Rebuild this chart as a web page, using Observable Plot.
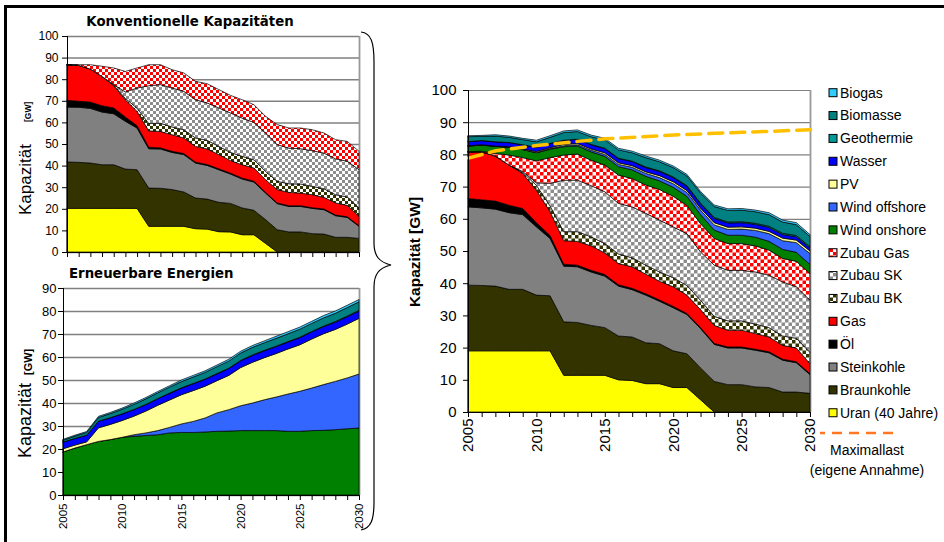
<!DOCTYPE html>
<html><head><meta charset="utf-8">
<script src="https://cdn.jsdelivr.net/npm/d3@7"></script>
<script src="https://cdn.jsdelivr.net/npm/@observablehq/plot@0.6"></script>
<style>
body{margin:0;background:#fff;}
#page{position:relative;width:944px;height:542px;overflow:hidden;font-family:"Liberation Sans",Arial,sans-serif;background:#fff;}
.abs{position:absolute;}
</style></head><body>
<div id="page">
<svg width="0" height="0" style="position:absolute"><defs>
 <pattern id="rZG" width="7" height="7" patternUnits="userSpaceOnUse"><rect width="7" height="7" fill="#fff"/><rect width="3.5" height="3.5" fill="#ff0000"/><rect x="3.5" y="3.5" width="3.5" height="3.5" fill="#ff0000"/></pattern>
 <pattern id="rZSK" width="7" height="7" patternUnits="userSpaceOnUse"><rect width="7" height="7" fill="#fff"/><rect width="3.5" height="3.5" fill="#8c8c8c"/><rect x="3.5" y="3.5" width="3.5" height="3.5" fill="#8c8c8c"/></pattern>
 <pattern id="rZBK" width="7" height="7" patternUnits="userSpaceOnUse"><rect width="7" height="7" fill="#fff"/><rect width="3.5" height="3.5" fill="#333300"/><rect x="3.5" y="3.5" width="3.5" height="3.5" fill="#333300"/></pattern>
 <pattern id="kZG" width="6" height="6" patternUnits="userSpaceOnUse"><rect width="6" height="6" fill="#fff"/><rect width="3" height="3" fill="#ff0000"/><rect x="3" y="3" width="3" height="3" fill="#ff0000"/></pattern>
 <pattern id="kZSK" width="6" height="6" patternUnits="userSpaceOnUse"><rect width="6" height="6" fill="#fff"/><rect width="3" height="3" fill="#8c8c8c"/><rect x="3" y="3" width="3" height="3" fill="#8c8c8c"/></pattern>
 <pattern id="kZBK" width="6" height="6" patternUnits="userSpaceOnUse"><rect width="6" height="6" fill="#fff"/><rect width="3" height="3" fill="#333300"/><rect x="3" y="3" width="3" height="3" fill="#333300"/></pattern>
</defs></svg>
<div class="abs" style="left:4px;top:5px;width:944px;height:540px;border-top:3px solid #000;border-left:3px solid #000;"></div>
<div id="pk" class="abs" style="left:0;top:0"></div>
<div id="pe" class="abs" style="left:0;top:262px"></div>
<div id="pr" class="abs" style="left:400px;top:60px"></div>
<svg id="ov" class="abs" width="944" height="542" style="left:0;top:0;pointer-events:none;font-family:'Liberation Sans',Arial,sans-serif">
 <text x="190" y="26" text-anchor="middle" font-family="DejaVu Sans" font-weight="bold" font-size="13.3">Konventionelle Kapazitäten</text>
 <text x="69" y="278" font-family="DejaVu Sans" font-weight="bold" font-size="13.3">Erneuerbare Energien</text>
 <text transform="translate(30.5,215) rotate(-90)" font-size="17">Kapazität</text>
 <text transform="translate(31,122) rotate(-90)" font-size="8.5" font-weight="bold">[GW]</text>
 <text transform="translate(31,458) rotate(-90)" font-size="18">Kapazität</text>
 <text transform="translate(32,375) rotate(-90)" font-size="11" font-weight="bold">[GW]</text>
 <text transform="translate(420,252) rotate(-90)" text-anchor="middle" font-size="15.5" font-weight="bold">Kapazität [GW]</text>
 <path d="M361,32 C371,33 374,42 374,62 L374,243 C374,256 379,262 391,265 C379,268 374,274 374,287 L374,502 C374,520 371,528 361,530" fill="none" stroke="#000" stroke-width="1.2"/>
 <g id="legend"></g>
 <line x1="820" x2="893" y1="433" y2="433" stroke="#FF7722" stroke-width="2.5" stroke-dasharray="10,7" stroke-dashoffset="5"/>
 <text x="867" y="455" text-anchor="middle" font-size="14">Maximallast</text>
 <text x="867" y="475" text-anchor="middle" font-size="14">(eigene Annahme)</text>
</svg>
</div>
<script>
const years = [2005,2006,2007,2008,2009,2010,2011,2012,2013,2014,2015,2016,2017,2018,2019,2020,2021,2022,2023,2024,2025,2026,2027,2028,2029,2030];
const labelYears = [2005,2010,2015,2020,2025,2030];
const ticks100 = [0,10,20,30,40,50,60,70,80,90,100];
const ticks90 = [0,10,20,30,40,50,60,70,80,90];

// Konventionelle Kapazitäten (GW)
const kSeries = ["Uran (40 Jahre)","Braunkohle","Steinkohle","Öl","Gas","Zubau BK","Zubau SK","Zubau Gas"];
const kUran = [20.2,20.2,20.2,20.2,20.2,20.2,20.2,11.9,11.9,11.9,11.9,10.8,10.6,9.4,9.3,8.0,8.0,4.0,0,0,0,0,0,0,0,0];
const kBraunkohle = [21.5,21.3,21.0,20.2,20.2,18.2,17.9,17.7,17.6,17.0,15.9,14.2,13.9,13.6,13.2,12.4,11.3,11.0,10.3,9.3,9.3,8.5,8.3,6.8,6.8,6.3];
const kSteinkohle = [25.4,25.5,25.3,24.4,23.6,22.1,19.3,18.2,18.2,17.2,17.3,16.2,15.6,15.1,13.6,13.4,13.1,12.3,12.1,11.8,11.8,11.7,11.3,10.0,9.2,5.6];
const kOel = [3.1,2.8,2.9,2.9,2.7,2.0,1.1,0.7,0.5,0.5,0.5,0.4,0.4,0.4,0.4,0.4,0.4,0.3,0.3,0.3,0.3,0.3,0.3,0.3,0.3,0.3];
const kGas = [16.5,16.6,15.3,13.6,10.3,8.0,6.6,7.6,7.6,7.7,7.2,7.3,7.2,6.6,5.8,6.2,6.1,5.9,6.2,6.2,5.9,6.0,5.4,5.6,5.3,4.3];
const kZubauBK = [0,0,0,0,0.2,0.6,1.5,3.4,3.8,3.6,3.8,3.9,4.0,3.8,3.8,3.9,3.8,3.8,3.8,4.0,4.2,3.9,4.0,3.8,3.9,3.9];
const kZubauSK = [0,0,0,0,0.3,3,9.3,17.5,17.9,18,17.8,17.7,17.3,17.8,18.3,17.7,17.3,17.8,17,16.5,16.3,16.5,16.5,16.6,16.5,17.7];
const kZubauGas = [0,0.3,2,4.7,7.7,9.5,9.3,9.7,9.2,8.5,8.5,8.5,8.9,8.5,8.1,8.5,8.2,7.7,9.3,9.3,9.6,9.7,9.3,8.9,9.2,8.5];

// Erneuerbare Energien (GW)
const eSeries = ["Wind onshore","Wind offshore","PV","Wasser","Geothermie","Biomasse","Biogas"];
const eWindOn = [18.7,20.4,21.9,23.3,24.1,25.1,25.5,25.9,26.2,27.0,27.2,27.2,27.4,27.7,27.8,28.0,28.0,28.0,28.0,27.7,27.7,28.0,28.1,28.4,28.8,29.1];
const eWindOff = [0,0,0,0,0,0,0.7,1.1,1.8,2.4,3.7,4.8,6.1,8.0,9.3,10.8,12.0,13.4,14.6,16.2,17.4,18.5,19.9,21.0,22.1,23.5];
const ePV = [1.4,1.3,1.2,5.9,6.6,7.3,8.1,9.5,11,11.9,12.7,13.4,13.8,14.0,14.9,16.6,17.7,18.3,18.9,19.6,20.2,21.3,22.1,22.6,23.4,24.2];
const eWasser = [2.9,2.9,2.9,2.9,2.9,2.9,2.9,2.9,2.9,2.9,2.9,3.0,3.0,3.0,3.0,3.0,3.0,3.0,3.0,3.0,3.1,3.1,3.1,3.1,3.2,3.2];
const eGeo = [0,0,0,0,0,0,0,0,0,0.1,0.1,0.1,0.1,0.1,0.1,0.1,0.2,0.2,0.2,0.2,0.2,0.2,0.2,0.3,0.3,0.3];
const eBiomasse = [0.8,1.0,1.2,1.6,1.8,2.0,2.2,2.4,2.5,2.6,2.7,2.8,2.9,3.0,3.1,3.2,3.3,3.3,3.4,3.4,3.5,3.5,3.6,3.6,3.7,3.7];
const eBiogas = [0.4,0.4,0.4,0.5,0.5,0.5,0.6,0.6,0.6,0.6,0.7,0.7,0.7,0.7,0.8,0.8,0.8,0.8,0.9,0.9,0.9,0.9,1.0,1.0,1.0,1.0];

// Gesamtbild (GW)
const rSeries = ["Uran (40 Jahre)","Braunkohle","Steinkohle","Öl","Gas","Zubau BK","Zubau SK","Zubau Gas","Wind onshore","Wind offshore","PV","Wasser","Geothermie","Biomasse","Biogas"];
const rUran = [19,19,19,19,19,19,19,11.4,11.4,11.4,11.4,10,9.8,8.8,8.8,7.6,7.6,3.8,0,0,0,0,0,0,0,0];
const rBraunkohle = [20.4,20.3,20.1,19.1,19.1,17.3,17.1,16.6,16.4,15.5,14.8,13.6,13.5,12.7,12.4,11.4,10.5,9.9,9.5,8.5,8.5,7.8,7.6,6.2,6.2,5.8];
const rSteinkohle = [24.3,24.1,23.9,23.8,23.2,21.2,17.8,17.3,17.3,16.6,16,15.5,14.7,14.8,13.2,13.4,12.2,12.2,11.5,11.4,11.4,11.4,10.8,9.9,9.1,5.8];
const rOel = [2.6,2.5,2.5,2.3,1.9,1.3,0.9,0.6,0.5,0.5,0.5,0.4,0.4,0.4,0.4,0.4,0.3,0.3,0.3,0.3,0.3,0.3,0.3,0.3,0.3,0.3];
const rGas = [14.5,14.9,14,12.5,10.9,10.1,7.4,7.3,7.4,7.6,6.7,6.6,6.7,6.1,5.8,6.1,5.7,5.6,5.6,5.2,5.2,4.9,4.6,4.3,4.3,3.1];
const rZubauBK = [0,0,0,0,0.3,1.5,1.8,2.8,3,2.8,2.9,3,2.8,2.8,2.9,2.8,3,2.9,2.8,2.9,2.9,2.9,2.9,2.9,3,3.5];
const rZubauSK = [0,0,0,0,0.3,0.8,7,16,16,15.9,16.1,15.7,15.8,16.1,16.1,15.8,16.1,15,15.9,15.7,15.7,16.2,16.3,16.8,16,16.2];
const rZubauGas = [0,0.2,0.8,3.1,4.3,6.8,8,7.8,8.1,7.9,8.3,8.8,8.8,8.8,9.5,9.5,8.8,8.8,8.3,8.3,8.3,8.1,7.8,7.3,7.9,8.3];
const rWindOn = [1.8,1.9,2.2,2.4,2.5,2.5,2.6,2.6,2.5,2.6,2.7,2.6,2.7,2.7,2.7,2.8,2.8,2.8,2.6,2.6,2.6,2.7,2.7,2.8,2.8,2.8];
const rWindOff = [0,0,0,0,0,0.1,0.2,0.3,0.4,0.5,0.6,0.7,0.8,0.9,1.0,1.1,1.2,1.4,1.6,1.8,1.9,2.1,2.4,2.7,3.0,3.4];
const rPV = [0.1,0.1,0.1,0.2,0.2,0.3,0.3,0.4,0.4,0.4,0.5,0.5,0.5,0.5,0.6,0.6,0.6,0.6,0.7,0.7,0.7,0.7,0.7,0.8,0.8,0.8];
const rWasser = [1.3,1.3,1.3,1.3,1.3,1.3,1.3,1.3,1.3,1.3,1.3,1.3,1.3,1.3,1.3,1.3,1.3,1.3,1.3,1.3,1.3,1.2,1.2,1.1,1.0,0.9];
const rGeo = [0,0,0,0,0,0,0,0,0,0.1,0.1,0.1,0.1,0.2,0.2,0.2,0.2,0.3,0.3,0.3,0.3,0.3,0.4,0.4,0.4,0.4];
const rBiomasse = [1.5,1.3,1.8,1.6,1.6,1.7,1.9,2.4,2.4,2.4,2.6,2.6,2.6,2.9,2.8,2.9,3.0,3.1,3.4,3.6,3.6,3.6,3.6,3.5,3.4,3.2];
const rBiogas = [0.3,0.3,0.4,0.4,0.4,0.5,0.5,0.5,0.5,0.5,0.5,0.5,0.5,0.5,0.5,0.5,0.5,0.5,0.5,0.5,0.5,0.5,0.6,0.6,0.6,0.6];

// Maximallast (eigene Annahme)
const maxYears = [2005,2007,2010,2013,2015,2020,2025,2030];
const maxLoad = [79,81.3,82.9,84.2,85,86.2,87,87.8];

const fillOf = {
  "Uran (40 Jahre)":"#FFFF00","Braunkohle":"#333300","Steinkohle":"#808080","Öl":"#000000","Gas":"#FF0000",
  "Wind onshore":"#008000","Wind offshore":"#3366FF","PV":"#FFFF99","Wasser":"#0000FF","Geothermie":"#009999",
  "Biomasse":"#008080","Biogas":"#33CCFF"
};
const kFills = kSeries.map(s => ({"Zubau BK":"url(#kZBK)","Zubau SK":"url(#kZSK)","Zubau Gas":"url(#kZG)"})[s] || fillOf[s]);
const rFills = rSeries.map(s => ({"Zubau BK":"url(#rZBK)","Zubau SK":"url(#rZSK)","Zubau Gas":"url(#rZG)"})[s] || fillOf[s]);
const eFills = eSeries.map(s => fillOf[s]);

function tidy(names, arrays) {
  const rows = [];
  names.forEach((n, j) => years.forEach((yr, i) => rows.push({year: yr, series: n, value: arrays[j][i]})));
  return rows;
}
const kRows = tidy(kSeries, [kUran,kBraunkohle,kSteinkohle,kOel,kGas,kZubauBK,kZubauSK,kZubauGas]);
const eRows = tidy(eSeries, [eWindOn,eWindOff,ePV,eWasser,eGeo,eBiomasse,eBiogas]);
const rRows = tidy(rSeries, [rUran,rBraunkohle,rSteinkohle,rOel,rGas,rZubauBK,rZubauSK,rZubauGas,rWindOn,rWindOff,rPV,rWasser,rGeo,rBiomasse,rBiogas]);
const maxRows = maxYears.map((y, i) => ({year: y, value: maxLoad[i]}));

function panel(o) {
  return Plot.plot({
    width: o.width, height: o.height,
    marginTop: o.mt, marginRight: o.mr, marginBottom: o.mb, marginLeft: o.ml,
    style: {fontFamily: "'Liberation Sans', Arial, sans-serif", background: "transparent", color: "black", overflow: "visible"},
    x: {domain: [2005, 2030]},
    y: {domain: [0, o.yMax]},
    color: {domain: o.names, range: o.fills},
    marks: [
      Plot.gridY(o.yTicks, {stroke: "#808080", strokeOpacity: 1, strokeWidth: o.gridW}),
      Plot.ruleX([2030], {y1: 0, y2: o.yMax, stroke: "#999", strokeWidth: 1.8}),
      Plot.areaY(o.rows, Plot.stackY({x: "year", y: "value", z: "series", fill: "series", order: o.names, stroke: "black", strokeWidth: 0.7, strokeLinejoin: "round"})),
      ...(o.extra || []),
      Plot.ruleX([2005], {y1: 0, y2: o.yMax, stroke: "black", strokeWidth: 1}),
      Plot.ruleY([0], {stroke: "black", strokeWidth: 1}),
      Plot.axisY(o.yTicks, {tickSize: o.ySize, tickPadding: o.yPad, fontSize: o.yFont, label: null}),
      Plot.axisX(years, {tickSize: 5, tickFormat: () => "", label: null}),
      o.showX ? Plot.axisX(labelYears, {tickSize: 0, tickRotate: -90, tickPadding: o.xPad, fontSize: o.xFont, tickFormat: "d", label: null}) : null
    ]
  });
}

document.getElementById("pk").append(panel({
  rows: kRows, names: kSeries, fills: kFills, width: 370, height: 262, mt: 36, mr: 11, mb: 10, ml: 67,
  yMax: 100, yTicks: ticks100, yFont: 12, ySize: 5, yPad: 4, gridW: 1.5, showX: false
}));
document.getElementById("pe").append(panel({
  rows: eRows, names: eSeries, fills: eFills, width: 370, height: 280, mt: 26, mr: 11, mb: 47, ml: 63,
  yMax: 90, yTicks: ticks90, yFont: 13, ySize: 5, yPad: 2, gridW: 1.5, showX: true, xPad: 8, xFont: 11.5
}));
document.getElementById("pr").append(panel({
  rows: rRows, names: rSeries, fills: rFills, width: 420, height: 420, mt: 30, mr: 10, mb: 68, ml: 68,
  yMax: 100, yTicks: ticks100, yFont: 15, ySize: 5, yPad: 7, gridW: 1.2, showX: true, xPad: 6, xFont: 15,
  extra: [Plot.line(maxRows, {x: "year", y: "value", stroke: "#FFC000", strokeWidth: 3.5, strokeDasharray: "14,8"})]
}));

// Legend
const legendNames = rSeries.slice().reverse();
const lg = d3.select("#legend");
legendNames.forEach((n, i) => {
  const cy = 92.7 + i * 22.86;
  const f = rFills[rSeries.indexOf(n)];
  lg.append("rect").attr("x", 829).attr("y", cy - 4).attr("width", 8).attr("height", 8).attr("fill", f).attr("stroke", "#000").attr("stroke-width", 1);
  lg.append("text").attr("x", 840).attr("y", cy).attr("dy", "0.35em").attr("font-size", 14).text(n);
});
</script>
</body></html>
